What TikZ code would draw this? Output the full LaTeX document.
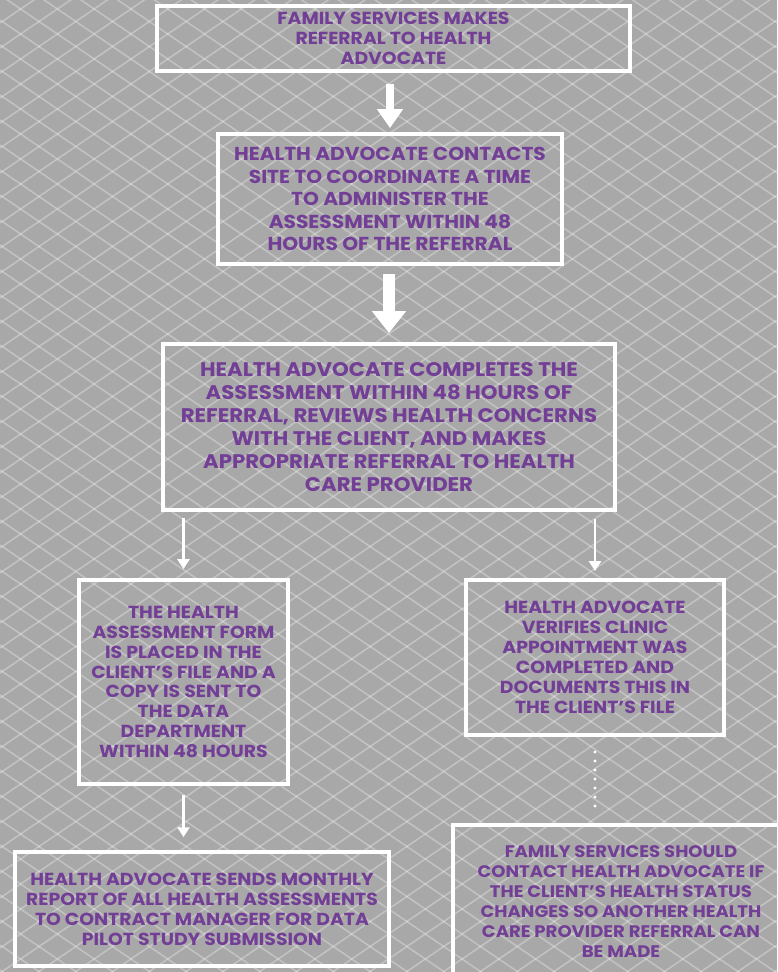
\documentclass[tikz,border=0pt]{standalone}
\usepackage{fontspec}
\setmainfont{Poppins}[FakeStretch=1.08]
\usetikzlibrary{arrows.meta,positioning,calc}
\definecolor{bggray}{RGB}{168,168,168}
\definecolor{textpurple}{RGB}{115,63,150}
\def\unitpx{0.025cm}

\tikzset{
  flowbox/.style={draw=white, line width=2.8pt, align=center, text=textpurple,
    font=\bfseries\fontsize{12.4}{14.2}\selectfont, inner sep=0pt},
  bigtext/.style={font=\bfseries\fontsize{13.3}{16}\selectfont},
  hugetext/.style={font=\bfseries\fontsize{14}{16.4}\selectfont},
  smalltext/.style={font=\bfseries\fontsize{11.9}{14.2}\selectfont},
  bigarrow/.style={draw=white, line width=5pt, -{Triangle[width=17.7pt,length=13.5pt]}},
  hugearrow/.style={draw=white, line width=8.5pt, -{Triangle[width=23.4pt,length=15.6pt]}},
  thinarrow/.style={draw=white, line width=2.1pt, -{Triangle[width=8.5pt,length=7pt]}},
  dotline/.style={draw=white, line width=2.2pt, line cap=round, dash pattern=on 0pt off 6.4pt},
  latticeline/.style={white, opacity=0.3, line width=1.1pt},
}

\begin{document}
\begin{tikzpicture}[x=\unitpx, y=-\unitpx]
  \useasboundingbox (0,0) rectangle (777,972);
  \clip (0,0) rectangle (777,972);

  % background with lattice
  \fill[bggray] (0,0) rectangle (777,972);
  \foreach \c in {-530,-505,...,1000} {
    \draw[latticeline] (0,\c) -- (777,\c+528);
    \draw[latticeline] (0,\c+528) -- (777,\c);
  }

  % main column
  \node[flowbox, minimum width=473*\unitpx, minimum height=65*\unitpx] (fam) at (393.5,38.5)
    {FAMILY SERVICES MAKES\\REFERRAL TO HEALTH\\ADVOCATE};
  \node[flowbox, bigtext, minimum width=344*\unitpx, minimum height=130*\unitpx] (contact) at (390,199)
    {HEALTH ADVOCATE CONTACTS\\SITE TO COORDINATE A TIME\\TO ADMINISTER THE\\ASSESSMENT WITHIN 48\\HOURS OF THE REFERRAL};
  \node[flowbox, hugetext, minimum width=452*\unitpx, minimum height=166*\unitpx] (complete) at (389,427)
    {HEALTH ADVOCATE COMPLETES THE\\ASSESSMENT WITHIN 48 HOURS OF\\REFERRAL, REVIEWS HEALTH CONCERNS\\WITH THE CLIENT, AND MAKES\\APPROPRIATE REFERRAL TO HEALTH\\CARE PROVIDER};

  % left branch
  \node[flowbox, minimum width=209*\unitpx, minimum height=204*\unitpx] (placed) at (183.5,682)
    {THE HEALTH\\ASSESSMENT FORM\\IS PLACED IN THE\\CLIENT'S FILE AND A\\COPY IS SENT TO\\THE DATA\\DEPARTMENT\\WITHIN 48 HOURS};
  \node[flowbox, minimum width=374*\unitpx, minimum height=114*\unitpx] (monthly) at (202,909)
    {HEALTH ADVOCATE SENDS MONTHLY\\REPORT OF ALL HEALTH ASSESSMENTS\\TO CONTRACT MANAGER FOR DATA\\PILOT STUDY SUBMISSION};

  % right branch
  \node[flowbox, minimum width=258*\unitpx, minimum height=155*\unitpx] (verify) at (595,657.5)
    {HEALTH ADVOCATE\\VERIFIES CLINIC\\APPOINTMENT WAS\\COMPLETED AND\\DOCUMENTS THIS IN\\THE CLIENT'S FILE};
  \node[flowbox, smalltext, minimum width=336*\unitpx, minimum height=153*\unitpx] (change) at (621,901.5)
    {FAMILY SERVICES SHOULD\\CONTACT HEALTH ADVOCATE IF\\THE CLIENT'S HEALTH STATUS\\CHANGES SO ANOTHER HEALTH\\CARE PROVIDER REFERRAL CAN\\BE MADE};

  % connectors
  \draw[bigarrow, shorten <=7.8pt, shorten >=2.8pt] (contact.north |- fam.south) -- (contact.north);
  \draw[hugearrow, shorten <=5.7pt, shorten >=6.4pt] (complete.north |- contact.south) -- (complete.north);
  \draw[thinarrow, shorten <=4.3pt, shorten >=6.4pt] (placed.north |- complete.south) -- (placed.north);
  \draw[thinarrow, shorten <=5pt, shorten >=5pt] (verify.north |- complete.south) -- (verify.north);
  \draw[thinarrow, shorten <=6.4pt, shorten >=9.2pt] (placed.south) -- (placed.south |- monthly.north);
  \draw[dotline, shorten <=10.7pt, shorten >=7pt] (verify.south) -- (verify.south |- change.north);
\end{tikzpicture}
\end{document}
